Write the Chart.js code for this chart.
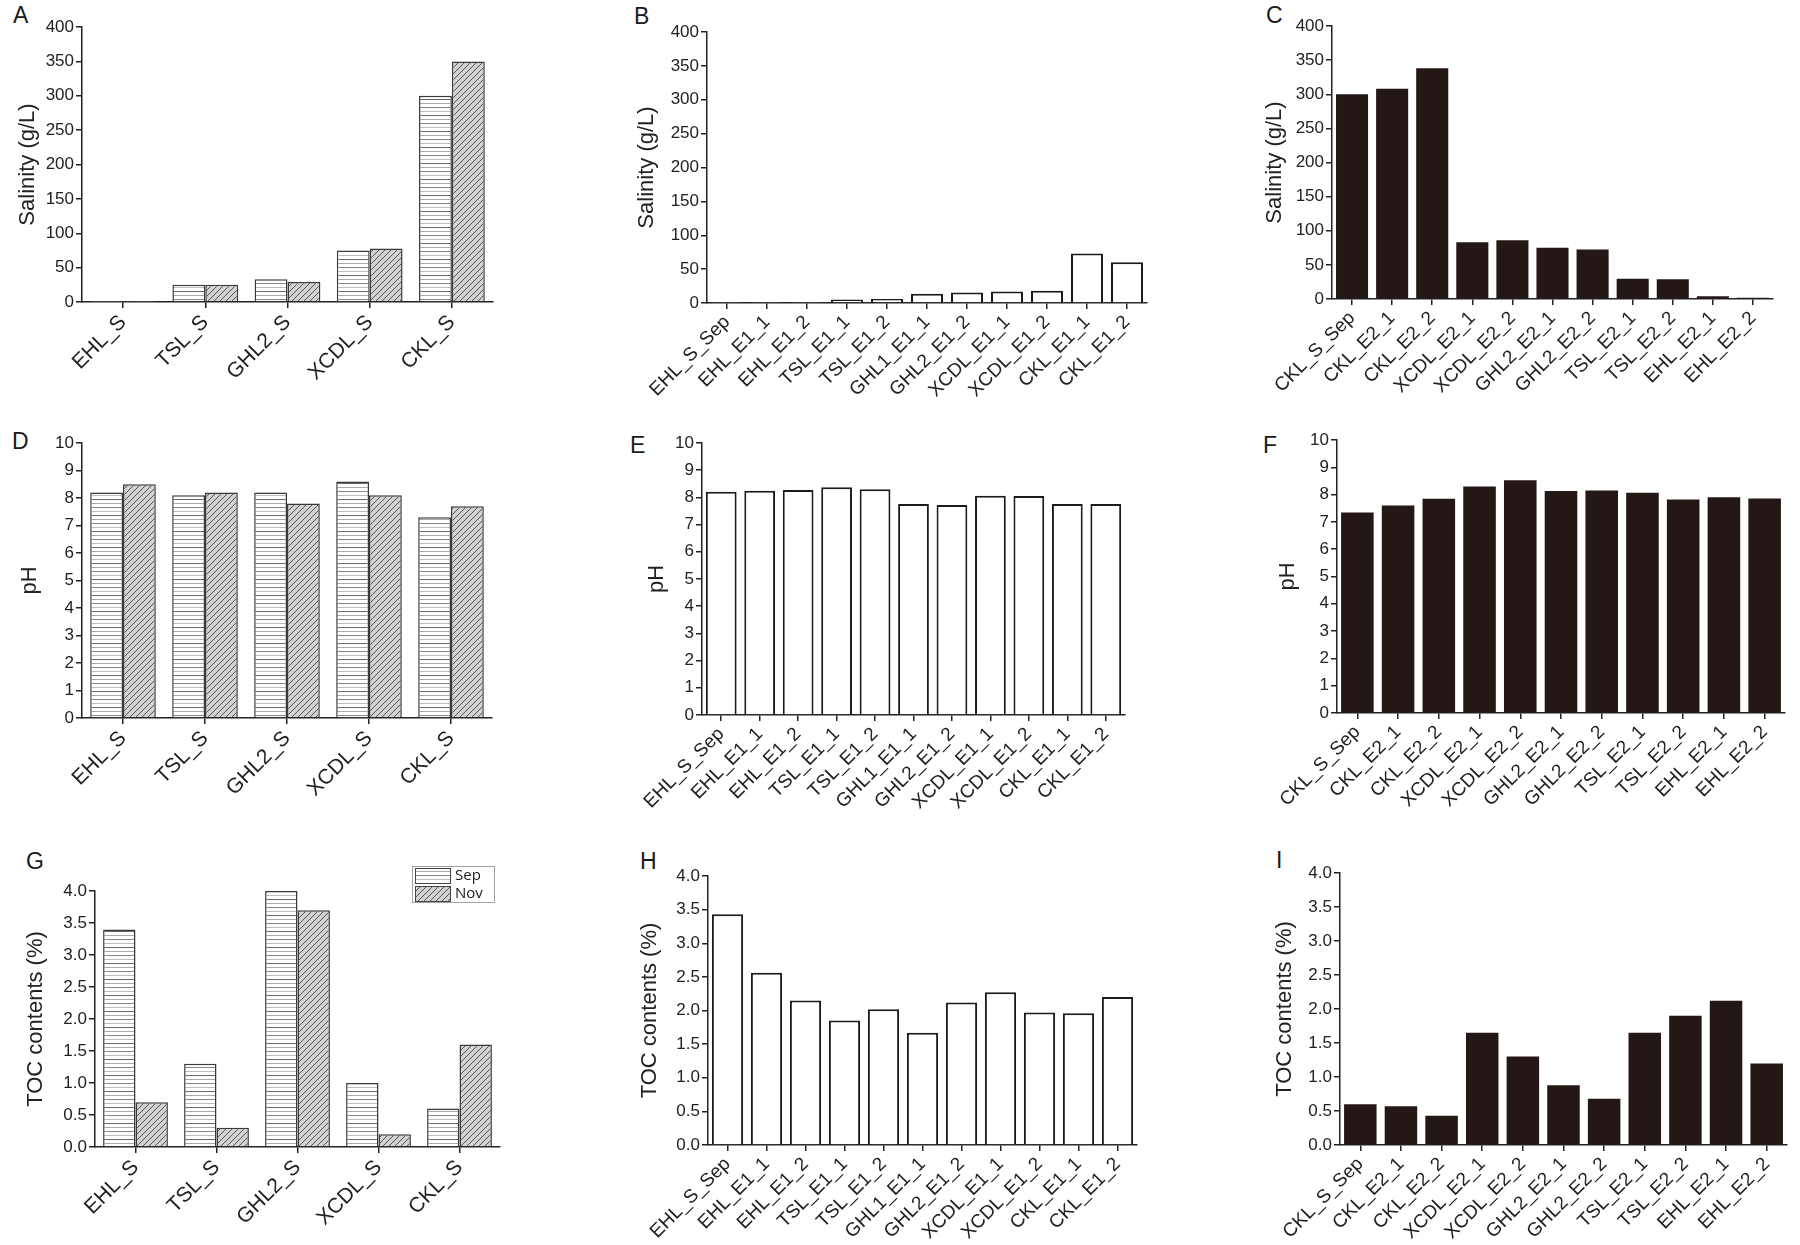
<!DOCTYPE html>
<html>
<head>
<meta charset="utf-8">
<script src="https://cdn.jsdelivr.net/npm/chart.js@4.4.1/dist/chart.umd.min.js"></script>
<style>
html, body { margin: 0; padding: 0; background: #fff; }
#page { position: relative; width: 1800px; height: 1245px; overflow: hidden; }
#page canvas { position: absolute; }
.tag { position: absolute; font: 23px/23px "Liberation Sans", Arial, sans-serif; color: #1a1a1a; }
</style>
</head>
<body>
<div id="page">
  <div class="tag" style="left:13px;top:4px">A</div>
  <div class="tag" style="left:634px;top:5px">B</div>
  <div class="tag" style="left:1266px;top:4px">C</div>
  <div class="tag" style="left:12px;top:430px">D</div>
  <div class="tag" style="left:630px;top:434px">E</div>
  <div class="tag" style="left:1263px;top:434px">F</div>
  <div class="tag" style="left:26px;top:850px">G</div>
  <div class="tag" style="left:640px;top:850px">H</div>
  <div class="tag" style="left:1276px;top:849px">I</div>
</div>
<script>
// Categories
const sitesS = ['EHL_S', 'TSL_S', 'GHL2_S', 'XCDL_S', 'CKL_S'];
const sitesE1 = ['EHL_S_Sep', 'EHL_E1_1', 'EHL_E1_2', 'TSL_E1_1', 'TSL_E1_2', 'GHL1_E1_1',
                 'GHL2_E1_2', 'XCDL_E1_1', 'XCDL_E1_2', 'CKL_E1_1', 'CKL_E1_2'];
const sitesE2 = ['CKL_S_Sep', 'CKL_E2_1', 'CKL_E2_2', 'XCDL_E2_1', 'XCDL_E2_2', 'GHL2_E2_1',
                 'GHL2_E2_2', 'TSL_E2_1', 'TSL_E2_2', 'EHL_E2_1', 'EHL_E2_2'];

// Salinity (g/L)
const salinitySep = [0.5, 25, 33, 75, 300];
const salinityNov = [0.5, 25, 29, 78, 350];
const salinityE1 = [0.5, 0.5, 0.5, 5, 6, 13.5, 15.5, 17, 18, 73, 60];
const salinityE2 = [300, 308, 338, 83, 86, 75, 72.5, 29.5, 29, 4, 2];

// pH
const pHSep = [8.2, 8.1, 8.2, 8.6, 7.3];
const pHNov = [8.5, 8.2, 7.8, 8.1, 7.7];
const pHE1 = [8.21, 8.24, 8.27, 8.37, 8.3, 7.76, 7.72, 8.06, 8.05, 7.76, 7.76];
const pHE2 = [7.34, 7.6, 7.85, 8.3, 8.53, 8.13, 8.15, 8.07, 7.82, 7.9, 7.86];

// TOC contents (%)
const tocSep = [3.4, 1.3, 4.0, 1.0, 0.6];
const tocNov = [0.7, 0.3, 3.7, 0.2, 1.6];
const tocE1 = [3.43, 2.56, 2.15, 1.85, 2.02, 1.67, 2.12, 2.27, 1.97, 1.96, 2.2];
const tocE2 = [0.6, 0.57, 0.43, 1.65, 1.3, 0.88, 0.68, 1.65, 1.9, 2.12, 1.2];

const FONT = '"Liberation Sans", Arial, sans-serif';
const INK = '#222';
const page = document.getElementById('page');

// horizontal-line fill used for Sep
function makeSepPattern() {
    const c = document.createElement('canvas');
    c.width = 4; c.height = 16;
    const g = c.getContext('2d');
    g.fillStyle = '#fff';
    g.fillRect(0, 0, 4, 16);
    ['#6a6a6a', '#aaaaaa', '#888888', '#bdbdbd'].forEach((s, i) => {
        g.fillStyle = s;
        g.fillRect(0, i * 4, 4, 1);
    });
    return g.createPattern(c, 'repeat');
}

// diagonal hatch on grey used for Nov
function makeNovPattern() {
    const s = 6;
    const c = document.createElement('canvas');
    c.width = s; c.height = s;
    const g = c.getContext('2d');
    g.fillStyle = '#d2d2d2';
    g.fillRect(0, 0, s, s);
    g.strokeStyle = '#555';
    g.lineWidth = 1;
    g.beginPath();
    g.moveTo(0, s); g.lineTo(s, 0);
    g.moveTo(-1, 1); g.lineTo(1, -1);
    g.moveTo(s - 1, s + 1); g.lineTo(s + 1, s - 1);
    g.stroke();
    return g.createPattern(c, 'repeat');
}

const sepFill = makeSepPattern();
const novFill = makeNovPattern();

// small boxed legend drawn above the top right of the plot (panel G)
const boxLegend = {
    id: 'boxLegend',
    afterDraw(chart) {
        const { ctx, chartArea } = chart;
        const x = chartArea.right - 88, y = chartArea.top - 25;
        ctx.save();
        ctx.fillStyle = '#fff';
        ctx.fillRect(x, y, 82, 36);
        ctx.strokeStyle = '#a0a0a0';
        ctx.lineWidth = 1;
        ctx.strokeRect(x + 0.5, y + 0.5, 82, 36);
        chart.data.datasets.forEach((ds, i) => {
            const sy = y + 2 + i * 18;
            ctx.fillStyle = ds.backgroundColor;
            ctx.fillRect(x + 3, sy, 35, 15);
            ctx.strokeStyle = '#444';
            ctx.strokeRect(x + 3.5, sy + 0.5, 35, 15);
            ctx.fillStyle = INK;
            ctx.font = '15px "Open Sans", sans-serif';
            ctx.textBaseline = 'middle';
            ctx.fillText(ds.label, x + 43, sy + 8);
        });
        ctx.restore();
    }
};

const panels = [
    { cl: 0,    L: 82,   T: 27,  R: 493,  B: 302,  tx: 28,   fs: 21, kind: 'pair',  labels: sitesS,  a: salinitySep, b: salinityNov, max: 400, step: 50,  dec: 0, title: 'Salinity (g/L)' },
    { cl: 620,  L: 707,  T: 32,  R: 1147, B: 303,  tx: 647,  fs: 19, kind: 'open',  labels: sitesE1, a: salinityE1, max: 400, step: 50, dec: 0, title: 'Salinity (g/L)' },
    { cl: 1250, L: 1332, T: 26,  R: 1773, B: 299,  tx: 1275, fs: 19, kind: 'solid', labels: sitesE2, a: salinityE2, max: 400, step: 50, dec: 0, title: 'Salinity (g/L)' },
    { cl: 0,    L: 82,   T: 443, R: 492,  B: 718,  tx: 30,   fs: 21, kind: 'pair',  labels: sitesS,  a: pHSep, b: pHNov, max: 10, step: 1, dec: 0, title: 'pH' },
    { cl: 620,  L: 702,  T: 443, R: 1125, B: 715,  tx: 657,  fs: 19, kind: 'open',  labels: sitesE1, a: pHE1, max: 10, step: 1, dec: 0, title: 'pH' },
    { cl: 1250, L: 1337, T: 440, R: 1785, B: 713,  tx: 1288, fs: 19, kind: 'solid', labels: sitesE2, a: pHE2, max: 10, step: 1, dec: 0, title: 'pH' },
    { cl: 0,    L: 95,   T: 891, R: 500,  B: 1147, tx: 36,   fs: 21, kind: 'pair',  labels: sitesS,  a: tocSep, b: tocNov, max: 4, step: 0.5, dec: 1, title: 'TOC contents (%)', legend: true },
    { cl: 620,  L: 708,  T: 876, R: 1137, B: 1145, tx: 650,  fs: 19, kind: 'open',  labels: sitesE1, a: tocE1, max: 4, step: 0.5, dec: 1, title: 'TOC contents (%)' },
    { cl: 1250, L: 1340, T: 873, R: 1787, B: 1145, tx: 1285, fs: 19, kind: 'solid', labels: sitesE2, a: tocE2, max: 4, step: 0.5, dec: 1, title: 'TOC contents (%)' }
];

function buildChart(p) {
    const padTop = 40, padRight = 10, xH = 135;
    const canvas = document.createElement('canvas');
    canvas.width = p.R - p.cl + padRight;
    canvas.height = padTop + (p.B - p.T) + xH;
    canvas.style.left = p.cl + 'px';
    canvas.style.top = (p.T - padTop) + 'px';
    page.appendChild(canvas);

    let datasets;
    if (p.kind === 'pair') {
        datasets = [
            { label: 'Sep', data: p.a, backgroundColor: sepFill, borderColor: '#3a3a3a', borderWidth: 1.5,
              categoryPercentage: 0.8, barPercentage: 1.0 },
            { label: 'Nov', data: p.b, backgroundColor: novFill, borderColor: '#3a3a3a', borderWidth: 1.5,
              categoryPercentage: 0.8, barPercentage: 1.0 }
        ];
    } else if (p.kind === 'open') {
        datasets = [{ data: p.a, backgroundColor: '#fff', borderColor: '#1b1b1b', borderWidth: 2,
                      categoryPercentage: 1.0, barPercentage: 0.8 }];
    } else {
        datasets = [{ data: p.a, backgroundColor: '#231815', borderWidth: 0,
                      categoryPercentage: 1.0, barPercentage: 0.8 }];
    }

    const axisLine = { display: true, color: INK, width: 1.5 };
    const tickMarks = { drawOnChartArea: false, drawTicks: true, tickLength: 6, color: INK, lineWidth: 1.5 };

    return new Chart(canvas, {
        type: 'bar',
        data: { labels: p.labels, datasets: datasets },
        options: {
            responsive: false,
            animation: false,
            layout: { padding: { top: padTop, right: padRight, left: 0, bottom: 0 } },
            plugins: { legend: { display: false }, tooltip: { enabled: false } },
            scales: {
                x: {
                    afterFit: s => { s.height = xH; },
                    grid: Object.assign({ offset: false }, tickMarks),
                    border: axisLine,
                    ticks: { color: INK, font: { family: FONT, size: p.fs },
                             minRotation: 45, maxRotation: 45, autoSkip: false, padding: 2 }
                },
                y: {
                    min: 0,
                    max: p.max,
                    afterFit: s => { s.width = p.L - p.cl; },
                    grid: tickMarks,
                    border: axisLine,
                    ticks: { stepSize: p.step, color: INK, font: { family: FONT, size: 17 }, padding: 2,
                             callback: v => Number(v).toFixed(p.dec) },
                    title: { display: true, text: p.title, color: INK, font: { family: FONT, size: 22 },
                             padding: { top: p.tx - p.cl - 13.2, bottom: 0 } }
                }
            }
        },
        plugins: p.legend ? [boxLegend] : []
    });
}

panels.forEach(buildChart);
</script>
</body>
</html>
